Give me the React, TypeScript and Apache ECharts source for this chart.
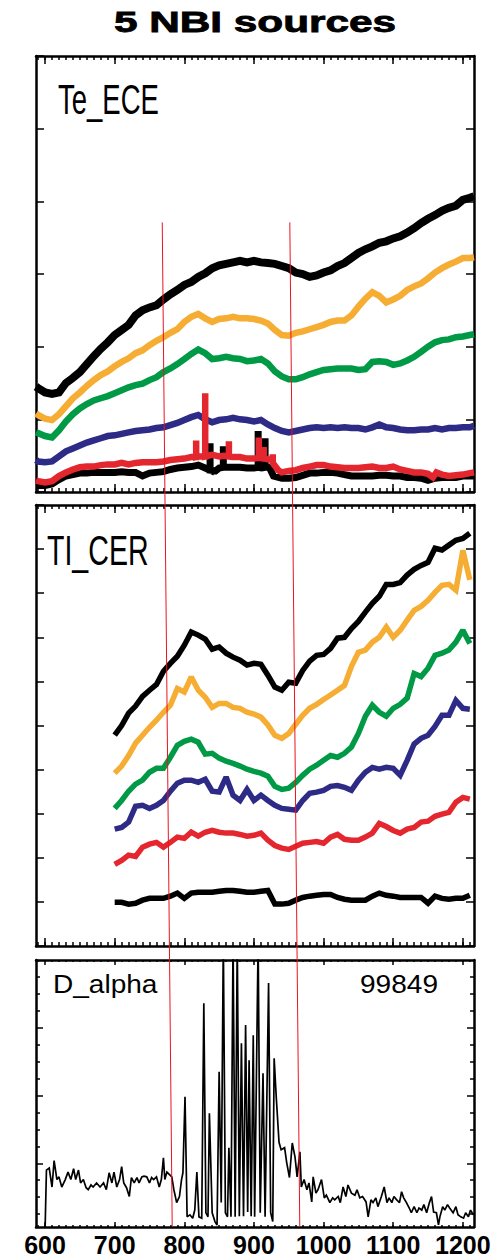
import React, { useEffect, useRef } from "react";
import * as echarts from "echarts";

// ---------- shared time axis (ms) ----------
const X_MIN = 587;
const X_MAX = 1216;
const X_MAJOR = [600, 700, 800, 900, 1000, 1100, 1200];
const X_MINOR = [
  590, 600, 610, 620, 630, 640, 650, 660, 670, 680, 690, 700, 710, 720, 730, 740, 750, 760, 770, 780,
  790, 800, 810, 820, 830, 840, 850, 860, 870, 880, 890, 900, 910, 920, 930, 940, 950, 960, 970, 980,
  990, 1000, 1010, 1020, 1030, 1040, 1050, 1060, 1070, 1080, 1090, 1100, 1110, 1120, 1130, 1140,
  1150, 1160, 1170, 1180, 1190, 1200, 1210,
];

// ---------- Te_ECE (panel 1) ----------
const TE_T = [
  587, 590, 600, 610, 620, 630, 640, 650, 660, 670, 680, 690, 700, 710, 720, 730, 740, 750, 760, 770,
  780, 790, 800, 810, 820, 830, 840, 850, 860, 870, 880, 890, 900, 910, 920, 930, 940, 950, 960, 970,
  980, 990, 1000, 1010, 1020, 1030, 1040, 1050, 1060, 1070, 1080, 1090, 1100, 1110, 1120, 1130, 1140,
  1150, 1160, 1170, 1180, 1190, 1200, 1210, 1216,
];
const TE_BLACK = [
  1.45, 1.43, 1.37, 1.35, 1.37, 1.5, 1.57, 1.65, 1.76, 1.87, 1.97, 2.06, 2.16, 2.23, 2.3, 2.43, 2.5,
  2.54, 2.57, 2.65, 2.72, 2.78, 2.85, 2.89, 2.96, 3.01, 3.08, 3.12, 3.14, 3.16, 3.18, 3.16, 3.18, 3.16,
  3.15, 3.14, 3.11, 3.08, 3.02, 3.0, 2.96, 2.98, 3.02, 3.05, 3.11, 3.15, 3.22, 3.29, 3.34, 3.38, 3.43,
  3.45, 3.49, 3.52, 3.57, 3.63, 3.7, 3.76, 3.81, 3.87, 3.91, 3.94, 4.02, 4.05, 4.07,
];
const TE_ORANGE = [
  1.08, 1.06, 1.01, 0.99, 1.07, 1.18, 1.29, 1.37, 1.46, 1.54, 1.61, 1.66, 1.73, 1.79, 1.84, 1.91, 1.95,
  2.02, 2.08, 2.13, 2.19, 2.24, 2.34, 2.41, 2.45, 2.39, 2.34, 2.38, 2.39, 2.41, 2.39, 2.39, 2.38, 2.36,
  2.32, 2.23, 2.16, 2.15, 2.19, 2.21, 2.24, 2.27, 2.3, 2.34, 2.36, 2.36, 2.43, 2.55, 2.66, 2.75, 2.7,
  2.61, 2.65, 2.7, 2.78, 2.83, 2.87, 2.94, 3.02, 3.08, 3.13, 3.17, 3.22, 3.22, 3.23,
];
const TE_GREEN = [
  0.82, 0.81, 0.77, 0.75, 0.85, 0.97, 1.07, 1.15, 1.21, 1.26, 1.29, 1.32, 1.36, 1.4, 1.44, 1.47, 1.49,
  1.54, 1.58, 1.65, 1.7, 1.76, 1.83, 1.9, 1.96, 1.91, 1.83, 1.84, 1.86, 1.84, 1.83, 1.8, 1.81, 1.83,
  1.77, 1.66, 1.59, 1.55, 1.55, 1.58, 1.62, 1.65, 1.68, 1.69, 1.7, 1.7, 1.7, 1.68, 1.69, 1.79, 1.8,
  1.79, 1.75, 1.77, 1.81, 1.86, 1.93, 2.0, 2.06, 2.09, 2.1, 2.13, 2.14, 2.16, 2.17,
];
const TE_NAVY = [
  0.44, 0.42, 0.41, 0.42, 0.49, 0.56, 0.6, 0.64, 0.68, 0.71, 0.74, 0.77, 0.78, 0.8, 0.82, 0.84, 0.85,
  0.86, 0.88, 0.89, 0.92, 0.95, 0.99, 1.03, 1.06, 1.0, 0.96, 0.99, 1.0, 1.02, 1.0, 0.99, 0.97, 0.99,
  0.93, 0.88, 0.84, 0.82, 0.84, 0.86, 0.88, 0.89, 0.88, 0.89, 0.88, 0.89, 0.88, 0.88, 0.86, 0.89,
  0.93, 0.89, 0.88, 0.86, 0.85, 0.85, 0.86, 0.86, 0.88, 0.86, 0.88, 0.88, 0.89, 0.89, 0.91,
];
// edge channels carry short bursts, kept as explicit [t, Te] samples
const TE_BLACK_EDGE = [
  [587, 0.09], [590, 0.09], [600, 0.09], [610, 0.11], [620, 0.17], [630, 0.22], [640, 0.24],
  [650, 0.26], [660, 0.26], [670, 0.27], [680, 0.27], [690, 0.27], [700, 0.27], [710, 0.28],
  [720, 0.27], [730, 0.27], [740, 0.22], [750, 0.26], [760, 0.27], [770, 0.28], [780, 0.31],
  [790, 0.33], [800, 0.34], [810, 0.35], [820, 0.37], [830, 0.33], [837, 0.3], [837, 0.67],
  [837, 0.3], [845, 0.29], [850, 0.33], [856, 0.34], [856, 0.63], [856, 0.34], [865, 0.34],
  [870, 0.34], [880, 0.34], [890, 0.33], [900, 0.33], [906, 0.34], [906, 0.84], [906, 0.34],
  [911, 0.33], [916, 0.34], [916, 0.74], [916, 0.34], [922, 0.34], [928, 0.22], [940, 0.19],
  [950, 0.19], [960, 0.2], [970, 0.23], [980, 0.26], [990, 0.26], [1000, 0.27], [1010, 0.27],
  [1020, 0.26], [1030, 0.24], [1040, 0.22], [1050, 0.22], [1060, 0.22], [1070, 0.22], [1080, 0.23],
  [1090, 0.23], [1100, 0.22], [1110, 0.22], [1120, 0.2], [1130, 0.2], [1140, 0.19], [1150, 0.16],
  [1160, 0.19], [1170, 0.2], [1180, 0.2], [1190, 0.2], [1200, 0.22], [1210, 0.22], [1216, 0.22],
];
const TE_RED = [
  [587, 0.16], [590, 0.15], [600, 0.13], [610, 0.15], [620, 0.22], [630, 0.27], [640, 0.31],
  [650, 0.34], [660, 0.35], [670, 0.35], [680, 0.37], [690, 0.38], [700, 0.38], [710, 0.4],
  [720, 0.38], [730, 0.4], [740, 0.41], [750, 0.41], [760, 0.41], [770, 0.42], [780, 0.44],
  [790, 0.45], [800, 0.46], [810, 0.48], [817, 0.48], [817, 0.71], [817, 0.48], [823, 0.49],
  [830, 0.49], [830, 1.36], [830, 0.49], [840, 0.51], [850, 0.49], [857, 0.5], [864, 0.49],
  [864, 0.7], [864, 0.49], [870, 0.48], [880, 0.48], [890, 0.46], [900, 0.46], [907, 0.47],
  [907, 0.75], [907, 0.47], [914, 0.46], [914, 0.62], [914, 0.46], [920, 0.45], [927, 0.44],
  [927, 0.52], [927, 0.4], [935, 0.3], [940, 0.27], [950, 0.29], [960, 0.3], [970, 0.33],
  [980, 0.35], [990, 0.37], [1000, 0.37], [1010, 0.35], [1020, 0.34], [1030, 0.33], [1040, 0.33],
  [1050, 0.33], [1060, 0.34], [1070, 0.35], [1080, 0.33], [1090, 0.33], [1100, 0.35], [1110, 0.31],
  [1120, 0.29], [1130, 0.27], [1140, 0.27], [1150, 0.25], [1157, 0.2], [1162, 0.27], [1170, 0.24],
  [1180, 0.22], [1190, 0.23], [1200, 0.24], [1210, 0.26], [1216, 0.27],
];

// ---------- Ti_CER (panel 2) ----------
const CER_T = [
  700, 710, 720, 730, 740, 750, 760, 770, 780, 790, 800, 810, 820, 830, 840, 850, 860, 870, 880, 890,
  900, 910, 920, 930, 940, 950, 960, 970, 980, 990, 1000, 1010, 1020, 1030, 1040, 1050, 1060, 1070,
  1080, 1090, 1100, 1110, 1120, 1130, 1140, 1150, 1160, 1170, 1180, 1190, 1200, 1210,
];
const CER_BLACK = [
  4.78, 5.0, 5.28, 5.44, 5.66, 5.8, 5.93, 6.23, 6.41, 6.57, 6.82, 7.12, 7.05, 6.96, 6.73, 6.78, 6.64,
  6.55, 6.48, 6.37, 6.41, 6.39, 6.14, 5.87, 5.8, 5.98, 5.96, 6.25, 6.46, 6.59, 6.61, 6.75, 6.98, 7.0,
  7.2, 7.36, 7.57, 7.77, 7.93, 8.2, 8.2, 8.24, 8.41, 8.54, 8.63, 8.7, 9.02, 8.98, 9.09, 9.2, 9.24, 9.36,
];
const CER_ORANGE = [
  3.92, 4.08, 4.32, 4.6, 4.78, 4.96, 5.12, 5.3, 5.46, 5.84, 5.76, 6.1, 5.8, 5.64, 5.41, 5.5, 5.5, 5.41,
  5.39, 5.3, 5.26, 5.19, 5.01, 4.78, 4.71, 4.82, 5.03, 5.23, 5.39, 5.48, 5.59, 5.69, 5.8, 5.91, 6.34,
  6.66, 6.71, 6.89, 7.0, 7.23, 7.0, 7.16, 7.39, 7.61, 7.7, 7.84, 8.02, 8.18, 8.2, 8.07, 8.97, 8.3,
];
const CER_GREEN = [
  3.12, 3.3, 3.51, 3.67, 3.76, 3.94, 4.03, 4.03, 4.28, 4.55, 4.64, 4.69, 4.62, 4.35, 4.37, 4.26, 4.19,
  4.14, 4.08, 4.01, 3.96, 3.92, 3.85, 3.62, 3.55, 3.58, 3.71, 3.87, 4.01, 4.1, 4.21, 4.32, 4.28, 4.37,
  4.51, 4.82, 5.21, 5.46, 5.3, 5.21, 5.39, 5.48, 5.62, 6.18, 6.11, 6.3, 6.59, 6.64, 6.71, 6.89, 7.16,
  6.86,
];
const CER_NAVY = [
  2.65, 2.69, 2.81, 3.17, 3.19, 3.12, 3.19, 3.3, 3.51, 3.69, 3.76, 3.76, 3.71, 3.78, 3.51, 3.49, 3.83,
  3.42, 3.3, 3.55, 3.3, 3.42, 3.3, 3.19, 3.12, 3.1, 3.08, 3.3, 3.46, 3.49, 3.53, 3.62, 3.64, 3.6, 3.53,
  3.76, 3.94, 4.05, 4.01, 4.05, 4.03, 3.87, 4.21, 4.58, 4.71, 4.78, 4.98, 5.23, 5.23, 5.57, 5.39, 5.37,
];
const CER_RED = [
  1.85, 1.94, 2.06, 2.03, 2.24, 2.31, 2.35, 2.24, 2.35, 2.47, 2.44, 2.58, 2.49, 2.58, 2.62, 2.58, 2.56,
  2.56, 2.53, 2.49, 2.51, 2.56, 2.4, 2.28, 2.22, 2.19, 2.26, 2.33, 2.35, 2.37, 2.33, 2.47, 2.53, 2.42,
  2.4, 2.4, 2.47, 2.56, 2.78, 2.71, 2.62, 2.56, 2.65, 2.69, 2.81, 2.83, 2.94, 2.99, 3.03, 3.26, 3.37,
  3.33,
];
const CER_BLACK_EDGE = [
  0.99, 0.99, 0.95, 0.97, 1.04, 1.08, 1.08, 1.08, 1.13, 1.2, 1.08, 1.2, 1.22, 1.22, 1.22, 1.24, 1.26,
  1.26, 1.24, 1.22, 1.22, 1.24, 1.26, 0.95, 0.95, 0.97, 1.04, 1.1, 1.13, 1.15, 1.17, 1.17, 1.1, 1.06,
  1.04, 1.04, 1.04, 1.13, 1.2, 1.15, 1.13, 1.1, 1.1, 1.1, 1.1, 0.97, 1.13, 1.08, 1.06, 1.08, 1.08, 1.15,
];

// ---------- D_alpha (panel 3) ----------
const D_Y_MIN = 0.06;
const D_Y_MAX = 4;
const D_MAJOR = [1, 2, 3];
const D_MINOR = [0.25, 0.5, 0.75, 1.25, 1.5, 1.75, 2.25, 2.5, 2.75, 3.25, 3.5, 3.75];
const D_ALPHA = [
  [600, 0.0], [602, 0.9], [606, 0.93], [610, 0.65], [613, 1.04], [617, 0.76], [620, 0.8], [624, 0.65],
  [629, 0.76], [633, 0.87], [637, 0.76], [641, 0.92], [644, 0.76], [648, 0.9], [651, 0.71], [655, 0.76],
  [659, 0.64], [662, 0.61], [666, 0.68], [669, 0.65], [674, 0.71], [679, 0.65], [684, 0.71], [688, 0.61],
  [692, 0.86], [696, 0.71], [699, 0.87], [703, 0.65], [707, 0.76], [710, 0.95], [713, 0.71], [717, 0.64],
  [721, 0.51], [724, 0.79], [728, 0.71], [732, 0.79], [735, 0.71], [739, 0.8], [742, 0.81], [746, 0.8],
  [750, 0.71], [753, 0.79], [756, 0.76], [760, 0.8], [764, 0.65], [767, 0.76], [770, 1.08], [772, 0.76],
  [775, 0.87], [778, 0.84], [782, 0.8], [785, 0.61], [789, 0.42], [793, 0.51], [796, 0.76], [798, 0.86],
  [801, 1.98], [804, 0.21], [808, 0.24], [812, 0.19], [815, 0.31], [818, 0.87], [821, 0.21], [825, 0.19],
  [828, 3.36], [831, 0.27], [834, 0.21], [836, 1.74], [840, 0.27], [844, 0.14], [847, 0.09], [850, 2.35],
  [853, 0.42], [856, 4.3], [859, 0.27], [862, 0.21], [864, 1.23], [867, 0.21], [870, 4.3], [873, 0.21],
  [876, 4.3], [879, 0.22], [882, 2.77], [885, 0.22], [888, 3.04], [891, 0.28], [893, 2.52], [896, 0.22],
  [899, 2.89], [901, 0.21], [906, 4.3], [909, 0.27], [913, 2.33], [916, 0.21], [921, 3.66], [924, 0.27],
  [927, 0.14], [929, 2.55], [932, 1.98], [936, 1.31], [939, 1.2], [944, 1.23], [947, 1.01], [951, 0.79],
  [955, 1.3], [959, 1.09], [962, 0.8], [966, 1.17], [968, 0.65], [972, 0.76], [976, 0.61], [979, 0.71],
  [983, 0.43], [985, 0.8], [989, 0.56], [992, 0.61], [997, 0.76], [1001, 0.49], [1004, 0.53], [1009, 0.42],
  [1013, 0.49], [1016, 0.46], [1021, 0.51], [1024, 0.42], [1028, 0.65], [1032, 0.51], [1035, 0.68],
  [1040, 0.56], [1045, 0.53], [1048, 0.61], [1052, 0.49], [1056, 0.51], [1061, 0.43], [1064, 0.21],
  [1068, 0.46], [1071, 0.42], [1075, 0.49], [1078, 0.36], [1083, 0.51], [1087, 0.65], [1091, 0.42],
  [1094, 0.49], [1098, 0.42], [1101, 0.51], [1105, 0.46], [1109, 0.42], [1112, 0.58], [1115, 0.49],
  [1119, 0.42], [1123, 0.34], [1126, 0.27], [1130, 0.36], [1134, 0.27], [1137, 0.34], [1141, 0.31],
  [1144, 0.39], [1148, 0.27], [1152, 0.42], [1155, 0.51], [1158, 0.28], [1162, 0.27], [1165, 0.09],
  [1167, 0.21], [1171, 0.36], [1174, 0.31], [1178, 0.39], [1181, 0.34], [1186, 0.27], [1190, 0.36],
  [1193, 0.24], [1197, 0.21], [1201, 0.19], [1204, 0.27], [1208, 0.21], [1211, 0.31], [1215, 0.24],
];

// beam timing markers: time at the top of panel 1 and at the bottom of panel 3
const MARK_T_TOP = [768.3, 951.5];
const MARK_T_BOTTOM = [782.6, 965.8];
const MARK_TOP_LEVEL = 3.71;

const FONT = '"Liberation Sans", Arial, Helvetica, sans-serif';
const COLORS = {
  black: "#000000",
  orange: "#f6ad34",
  green: "#009a46",
  navy: "#2d2b86",
  red: "#e4262f",
  marker: "#e8141e",
};

function buildOption() {
  const grids = [
    { left: 36, right: 27, top: 56, height: 436 },
    { left: 36, right: 27, top: 505, height: 441 },
    { left: 36, right: 27, top: 960, height: 267 },
  ];
  const xAxis: any[] = [];
  const yAxis: any[] = [];
  const frame = { show: true, onZero: false, lineStyle: { color: "#000", width: 2.5 } };
  const hidden = { show: false, onZero: false };
  const tickStyle = { color: "#000", width: 1.5 };

  const addX = (grid: number, position: string, values: number[], len: number, line: boolean, labels: boolean) => {
    xAxis.push({
      type: "value",
      gridIndex: grid,
      position,
      min: X_MIN,
      max: X_MAX,
      axisLine: line ? frame : hidden,
      axisTick: { show: true, inside: true, length: len, customValues: values, lineStyle: tickStyle },
      axisLabel: labels
        ? {
            show: true,
            customValues: X_MAJOR,
            margin: 5,
            color: "#000",
            fontFamily: FONT,
            fontWeight: "bold",
            fontSize: 25,
            formatter: (v: number) => String(Math.round(v)),
          }
        : { show: false },
      splitLine: { show: false },
    });
    return xAxis.length - 1;
  };
  const addY = (grid: number, position: string, min: number, max: number, tick: any, line: boolean) => {
    yAxis.push({
      type: "value",
      gridIndex: grid,
      position,
      min,
      max,
      ...(tick.interval ? { interval: tick.interval } : {}),
      axisLine: line ? frame : hidden,
      axisTick: {
        show: true,
        inside: true,
        length: tick.length,
        ...(tick.values ? { customValues: tick.values } : {}),
        lineStyle: tickStyle,
      },
      axisLabel: { show: false },
      splitLine: { show: false },
    });
    return yAxis.length - 1;
  };

  // panel 1
  const x0 = addX(0, "bottom", X_MAJOR, 8, true, false);
  addX(0, "bottom", X_MINOR, 4, false, false);
  addX(0, "top", X_MAJOR, 8, true, false);
  addX(0, "top", X_MINOR, 4, false, false);
  const y0 = addY(0, "left", 0, 6, { interval: 1, length: 8 }, true);
  addY(0, "right", 0, 6, { interval: 1, length: 8 }, true);
  // panel 2
  const x1 = addX(1, "bottom", X_MAJOR, 8, true, false);
  addX(1, "bottom", X_MINOR, 4, false, false);
  addX(1, "top", X_MAJOR, 8, true, false);
  addX(1, "top", X_MINOR, 4, false, false);
  const y1 = addY(1, "left", 0, 10, { interval: 1, length: 8 }, true);
  addY(1, "right", 0, 10, { interval: 1, length: 8 }, true);
  // panel 3
  const x2 = addX(2, "bottom", X_MAJOR, 5, true, true);
  addX(2, "bottom", X_MINOR, 2, false, false);
  addX(2, "top", X_MAJOR, 5, true, false);
  addX(2, "top", X_MINOR, 2, false, false);
  const y2 = addY(2, "left", D_Y_MIN, D_Y_MAX, { values: D_MAJOR, length: 7 }, true);
  addY(2, "left", D_Y_MIN, D_Y_MAX, { values: D_MINOR, length: 4 }, false);
  addY(2, "right", D_Y_MIN, D_Y_MAX, { values: D_MAJOR, length: 7 }, true);
  addY(2, "right", D_Y_MIN, D_Y_MAX, { values: D_MINOR, length: 4 }, false);

  const series: any[] = [];
  const addLine = (xi: number, yi: number, data: any[], color: string, width: number, z: number) => {
    series.push({
      type: "line",
      xAxisIndex: xi,
      yAxisIndex: yi,
      data,
      showSymbol: false,
      symbol: "none",
      silent: true,
      clip: true,
      z,
      emphasis: { disabled: true },
      lineStyle: { color, width, join: "miter", miterLimit: 2, cap: "butt" },
    });
  };
  const zip = (t: number[], v: number[]) => t.map((ti, i) => [ti, v[i]]);

  addLine(x0, y0, zip(TE_T, TE_BLACK), COLORS.black, 8, 3);
  addLine(x0, y0, zip(TE_T, TE_ORANGE), COLORS.orange, 6.5, 3);
  addLine(x0, y0, zip(TE_T, TE_GREEN), COLORS.green, 6.5, 3);
  addLine(x0, y0, zip(TE_T, TE_NAVY), COLORS.navy, 6.5, 3);
  addLine(x0, y0, TE_BLACK_EDGE, COLORS.black, 7, 3);
  addLine(x0, y0, TE_RED, COLORS.red, 6.5, 3);

  addLine(x1, y1, zip(CER_T, CER_BLACK), COLORS.black, 5.5, 3);
  addLine(x1, y1, zip(CER_T, CER_ORANGE), COLORS.orange, 5.5, 3);
  addLine(x1, y1, zip(CER_T, CER_GREEN), COLORS.green, 5.5, 3);
  addLine(x1, y1, zip(CER_T, CER_NAVY), COLORS.navy, 5.5, 3);
  addLine(x1, y1, zip(CER_T, CER_RED), COLORS.red, 5.5, 3);
  addLine(x1, y1, zip(CER_T, CER_BLACK_EDGE), COLORS.black, 5.5, 3);

  addLine(x2, y2, D_ALPHA, COLORS.black, 1.7, 3);

  const text = (
    id: string,
    x: number,
    y: number,
    str: string,
    font: string,
    scaleX: number,
    align: string,
    stroke = 0
  ) => ({
    id,
    type: "text",
    x,
    y,
    scaleX,
    silent: true,
    z: 50,
    style: {
      text: str,
      font,
      fill: "#000",
      ...(stroke ? { stroke: "#000", lineWidth: stroke } : {}),
      align,
      textAlign: align,
      verticalAlign: "middle",
      textVerticalAlign: "middle",
    },
  });

  const graphics = [
    text("title", 255, 22.5, "5 NBI sources", `bold 29px ${FONT}`, 1.46, "center", 0.8),
    text("lab-te", 58, 100, "Te_ECE", `42px ${FONT}`, 0.655, "left"),
    text("lab-ti", 47, 550, "TI_CER", `42px ${FONT}`, 0.68, "left"),
    text("lab-da", 53, 984, "D_alpha", `25.5px ${FONT}`, 1.1, "left"),
    text("lab-shot", 360, 984, "99849", `25.5px ${FONT}`, 1.1, "left"),
  ];

  return {
    option: {
      animation: false,
      backgroundColor: "#ffffff",
      grid: grids,
      xAxis,
      yAxis,
      series,
      graphic: { elements: graphics },
    },
    axes: { x0, y0, x2, y2 },
  };
}

export default function App() {
  const ref = useRef<HTMLDivElement>(null);
  useEffect(() => {
    if (!ref.current) return;
    const chart = echarts.init(ref.current, null, { renderer: "svg" });
    const { option, axes } = buildOption();
    chart.setOption(option);

    // slanted timing markers running through all three panels
    const markers = MARK_T_TOP.map((t0, i) => {
      const p0 = chart.convertToPixel({ xAxisIndex: axes.x0, yAxisIndex: axes.y0 }, [t0, MARK_TOP_LEVEL]) as number[];
      const p1 = chart.convertToPixel(
        { xAxisIndex: axes.x2, yAxisIndex: axes.y2 },
        [MARK_T_BOTTOM[i], D_Y_MIN]
      ) as number[];
      return {
        id: `marker-${i}`,
        type: "line",
        silent: true,
        z: 100,
        shape: { x1: p0[0], y1: p0[1], x2: p1[0], y2: p1[1] },
        style: { stroke: COLORS.marker, lineWidth: 1 },
      };
    });
    chart.setOption({ graphic: { elements: markers } });

    return () => chart.dispose();
  }, []);

  return (
    <div
      ref={ref}
      style={{ position: "absolute", left: 0, top: 0, width: 501, height: 1259, background: "#fff" }}
    />
  );
}
